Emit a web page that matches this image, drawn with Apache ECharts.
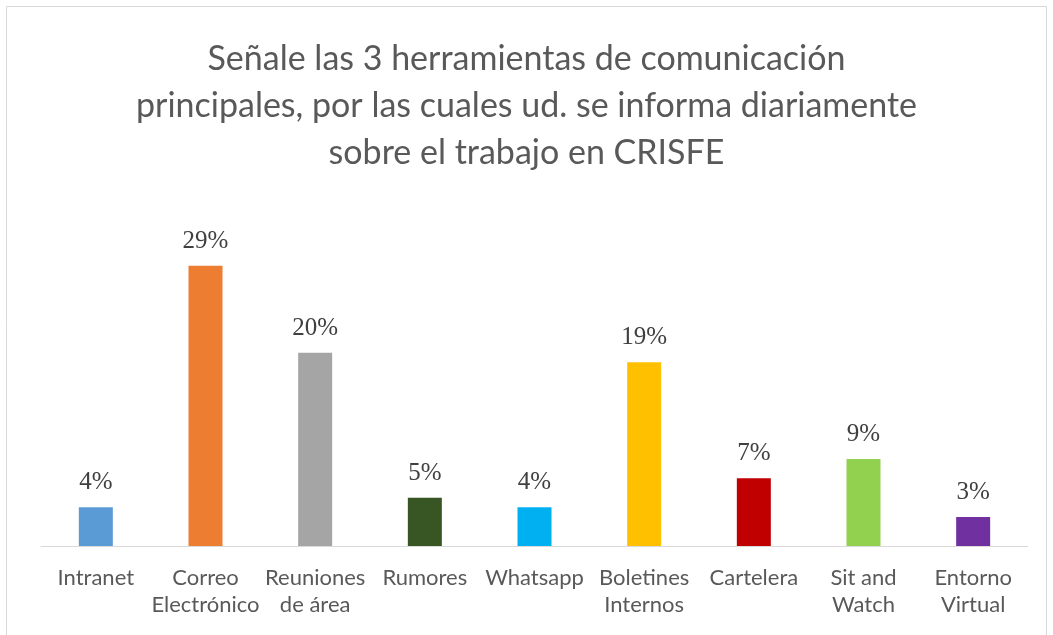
<!DOCTYPE html>
<html>
<head>
<meta charset="utf-8">
<style>
  html, body { margin: 0; padding: 0; background: #fff; }
  #chart { width: 1053px; height: 635px; }
</style>
<script src="https://cdn.jsdelivr.net/npm/echarts@6/dist/echarts.min.js"></script>
</head>
<body>
<div id="chart"></div>
<script>
var categories = ['Intranet', 'Correo\nElectrónico', 'Reuniones\nde área', 'Rumores', 'Whatsapp',
    'Boletines\nInternos', 'Cartelera', 'Sit and\nWatch', 'Entorno\nVirtual'];
var values = [4, 29, 20, 5, 4, 19, 7, 9, 3];
var barColors = ['#5b9bd5', '#ed7d31', '#a5a5a5', '#375623', '#00b0f0', '#ffc000', '#c00000', '#92d050', '#7030a0'];

var chart = echarts.init(document.getElementById('chart'));

chart.setOption({
    animation: false,
    title: {
        text: 'Señale las 3 herramientas de comunicación\nprincipales, por las cuales ud. se informa diariamente\nsobre el trabajo en CRISFE',
        left: 'center',
        top: 31,
        textStyle: {
            fontFamily: 'Lato',
            fontWeight: 'normal',
            fontSize: 34,
            lineHeight: 47,
            color: '#595959'
        }
    },
    graphic: [{
        type: 'rect',
        shape: { x: 6.5, y: 6.5, width: 1040, height: 640 },
        style: { fill: 'none', stroke: '#d9d9d9', lineWidth: 1 },
        silent: true
    }],
    grid: {
        left: 41,
        right: 25,
        top: 256,
        bottom: 89
    },
    xAxis: {
        type: 'category',
        data: categories,
        axisTick: { show: false },
        axisLine: { lineStyle: { color: '#d9d9d9', width: 1 } },
        axisLabel: {
            interval: 0,
            margin: 18,
            fontFamily: 'Lato',
            fontSize: 22,
            lineHeight: 27,
            color: '#595959'
        }
    },
    yAxis: {
        type: 'value',
        min: 0,
        max: 30,
        show: false,
        splitLine: { show: false }
    },
    series: [{
        type: 'bar',
        data: values.map(function (v, i) {
            return { value: v, itemStyle: { color: barColors[i] } };
        }),
        barWidth: 34,
        label: {
            show: true,
            position: 'top',
            distance: 12,
            formatter: '{c}%',
            fontFamily: 'Liberation Serif',
            fontSize: 25,
            color: '#404040'
        }
    }]
});
</script>
</body>
</html>
